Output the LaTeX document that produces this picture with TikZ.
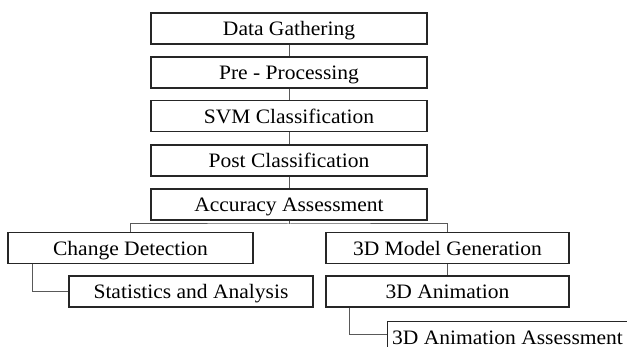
\documentclass[tikz,border=0pt]{standalone}
\usepackage{fontspec}
\setmainfont{Liberation Serif}[FakeStretch=1.05]
\usepackage{xcolor}
\usepackage{tikz}

\begin{document}
\begin{tikzpicture}[x=1pt,y=-1pt,
  stage/.style={draw=black!85,line width=1.1pt,inner sep=0pt,text height=23pt,text depth=8pt,
    font=\fontsize{20.5}{23}\selectfont},
  link/.style={draw=black!65,line width=1pt}]
\useasboundingbox (0,0) rectangle (627,347);

\node[stage,minimum width=276pt] (gather) at (289,28.5) {Data Gathering};
\node[stage,minimum width=276pt] (preproc) at (289,72.5) {Pre - Processing};
\node[stage,minimum width=276pt] (svm) at (289,116) {SVM Classification};
\node[stage,minimum width=276pt] (post) at (289,160.5) {Post Classification};
\node[stage,minimum width=276pt] (accuracy) at (289,204.5) {Accuracy Assessment};

\node[stage,minimum width=245pt] (change) at (130.5,248) {Change Detection};
\node[stage,minimum width=243pt] (model) at (447.5,248) {3D Model Generation};
\node[stage,minimum width=244pt] (stats) at (191,291.5) {Statistics and Analysis};
\node[stage,minimum width=243pt] (anim) at (447.5,291.5) {3D Animation};
\node[stage,anchor=north west,inner xsep=1.5pt,text height=22.5pt,text depth=30pt,minimum width=300pt,align=left] (animassess) at (387,321) {3D Animation Assessment\hspace{60pt}};

\coordinate (split) at (289,224);

\draw[link] (gather) -- (preproc);
\draw[link] (preproc) -- (svm);
\draw[link] (svm) -- (post);
\draw[link] (post) -- (accuracy);
\draw[link] (accuracy) -- (split);
\draw[link] (change.north) |- (split) -| (model.north);
\draw[link] ([xshift=25pt]change.south west) |- (stats.west);
\draw[link] (model) -- (anim);
\draw[link] ([xshift=24pt]anim.south west) |- ([yshift=-14pt]animassess.north west);
\end{tikzpicture}
\end{document}
